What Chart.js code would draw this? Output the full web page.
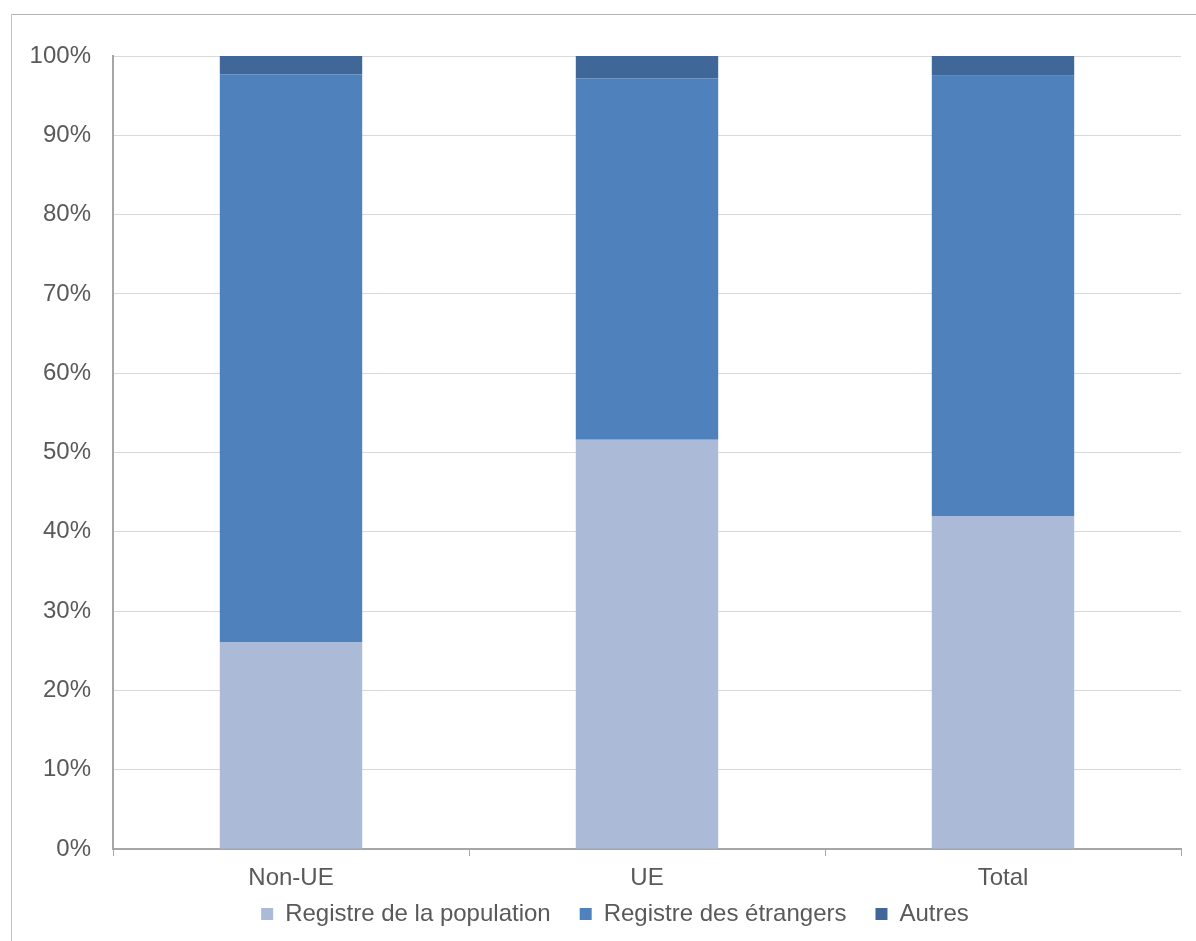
<!DOCTYPE html>
<html>
<head>
<meta charset="utf-8">
<script src="https://cdn.jsdelivr.net/npm/chart.js@4"></script>
<style>
  html, body { margin: 0; padding: 0; background: #fff; }
  #wrap { position: relative; width: 1196px; height: 941px; overflow: hidden; }
  #frame { position: absolute; left: 11px; top: 14px; width: 1300px; height: 1000px;
           border-left: 1px solid #c4c4c4; border-top: 1px solid #b4b4b4; }
  canvas { position: absolute; left: 0; top: 0; }
</style>
</head>
<body>
<div id="wrap">
  <div id="frame"></div>
  <canvas id="chart" width="1196" height="941"></canvas>
</div>
<script>
// catégories et séries (en %)
const categories = ['Non-UE', 'UE', 'Total'];
const registrePopulation = [26.1, 51.6, 42.0];
const registreEtrangers = [71.6, 45.6, 55.5];
const autres = [2.3, 2.8, 2.5];
const yTicks = [0, 10, 20, 30, 40, 50, 60, 70, 80, 90, 100];

const textColor = '#595959';
const font = { family: '"Liberation Sans", Arial, sans-serif', size: 24 };

Chart.defaults.font = font;
Chart.defaults.color = textColor;

// la légende est décalée vers la droite et les libellés x ne sont pas rognés
const ajusterMiseEnPage = {
  id: 'ajusterMiseEnPage',
  afterLayout(chart) {
    chart.legend.left += 49;
    chart.scales.x.bottom += 30;
  }
};

const ctx = document.getElementById('chart').getContext('2d');
new Chart(ctx, {
  type: 'bar',
  data: {
    labels: categories,
    datasets: [
      { label: 'Registre de la population', data: registrePopulation, backgroundColor: '#aabad7' },
      { label: 'Registre des étrangers', data: registreEtrangers, backgroundColor: '#4f81bd' },
      { label: 'Autres', data: autres, backgroundColor: '#3f6898' }
    ]
  },
  plugins: [ajusterMiseEnPage],
  options: {
    responsive: false,
    animation: false,
    layout: { padding: { top: 56, right: 15, bottom: 5, left: 0 } },
    datasets: {
      bar: { categoryPercentage: 1, barPercentage: 0.4, borderWidth: 0 }
    },
    plugins: {
      tooltip: { enabled: false },
      legend: {
        position: 'bottom',
        labels: { boxWidth: 12, boxHeight: 12, padding: 29, color: textColor, font: font }
      }
    },
    scales: {
      x: {
        stacked: true,
        afterFit: (scale) => { scale.height = 24; },
        grid: { drawOnChartArea: false, tickLength: 7, color: '#a6a6a6', offset: true },
        border: { color: '#a6a6a6', width: 2 },
        ticks: { padding: 8, color: textColor, font: font }
      },
      y: {
        stacked: true,
        min: 0,
        max: 100,
        afterFit: (scale) => { scale.width = 113; },
        afterBuildTicks: (scale) => { scale.ticks = yTicks.map(v => ({ value: v })); },
        grid: { color: '#d9d9d9', drawTicks: false },
        border: { color: '#a6a6a6', width: 2 },
        ticks: { padding: 22, color: textColor, font: font, callback: (v) => v + '%' }
      }
    }
  }
});
</script>
</body>
</html>
